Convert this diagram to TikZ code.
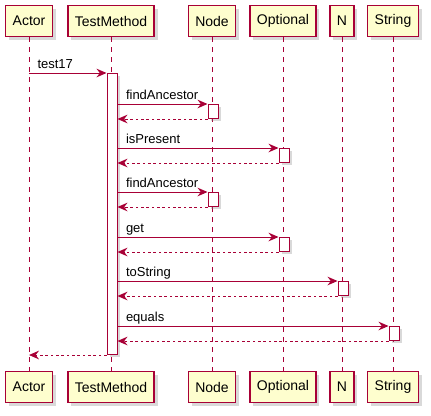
\documentclass[tikz,border=0pt]{standalone}
\usepackage{fontspec}
\setmainfont{Liberation Sans}
\usetikzlibrary{arrows.meta,shadows}

\definecolor{umlred}{HTML}{A80036}
\definecolor{umlfill}{HTML}{FEFECE}

\begin{document}
\begin{tikzpicture}[x=0.75pt, y=-0.75pt,
    part/.style={draw=umlred, fill=umlfill, line width=1.1pt, minimum height=23.25pt, inner xsep=5.25pt,
                 font=\fontsize{10.5}{12}\selectfont,
                 drop shadow={shadow xshift=2.5pt, shadow yshift=-2.5pt, opacity=0.3}},
    act/.style={draw=umlred, fill=white, line width=0.75pt, minimum width=7.5pt, minimum height=10.5pt, inner sep=0pt, anchor=north,
                drop shadow={shadow xshift=2pt, shadow yshift=-2pt, opacity=0.3}},
    lifeline/.style={draw=umlred, line width=0.75pt, dash pattern=on 3.75pt off 3.75pt},
    call/.style={draw=umlred, line width=0.75pt, -{Stealth[length=7.5pt, width=6.5pt, inset=2.5pt]}},
    reply/.style={call, dash pattern=on 2pt off 2pt},
    msg/.style={pos=0, anchor=base west, inner sep=0pt, xshift=6pt, yshift=3.75pt, font=\fontsize{9.75}{11}\selectfont}]
  \useasboundingbox (0,0) rectangle (431,415);
  % participants, top and bottom
  \node[part] (actT)  at (29,21)  {Actor};
  \node[part] (tmT)   at (111,21) {TestMethod};
  \node[part] (nodeT) at (212,21) {Node};
  \node[part] (optT)  at (283,21) {Optional};
  \node[part] (nT)    at (342,21) {N};
  \node[part] (strT)  at (393,21) {String};
  \node[part] (actB)  at (29,387)  {Actor};
  \node[part] (tmB)   at (111,387) {TestMethod};
  \node[part] (nodeB) at (212,387) {Node};
  \node[part] (optB)  at (283,387) {Optional};
  \node[part] (nB)    at (342,387) {N};
  \node[part] (strB)  at (393,387) {String};
  % lifelines
  \draw[lifeline] (actT) -- (actB);
  \draw[lifeline] (tmT) -- (tmB);
  \draw[lifeline] (nodeT) -- (nodeB);
  \draw[lifeline] (optT) -- (optB);
  \draw[lifeline] (nT) -- (nB);
  \draw[lifeline] (strT) -- (strB);
  % activations
  \node[act, minimum height=210.75pt] (tmAct) at (112,73) {};
  \node[act] (nodeAct1) at (213,104) {};
  \node[act] (optAct1)  at (284,148) {};
  \node[act] (nodeAct2) at (213,192) {};
  \node[act] (optAct2)  at (284,237) {};
  \node[act] (nAct)     at (343,281) {};
  \node[act] (strAct)   at (394,326) {};
  % messages
  \draw[call] (actT |- tmAct.north) -- (tmAct.north west) node[msg] {test17};
  \draw[call] (tmAct.east |- nodeAct1.north) -- (nodeAct1.north west) node[msg] {findAncestor};
  \draw[reply] (nodeAct1.south west) -- (tmAct.east |- nodeAct1.south);
  \draw[call] (tmAct.east |- optAct1.north) -- (optAct1.north west) node[msg] {isPresent};
  \draw[reply] (optAct1.south west) -- (tmAct.east |- optAct1.south);
  \draw[call] (tmAct.east |- nodeAct2.north) -- (nodeAct2.north west) node[msg] {findAncestor};
  \draw[reply] (nodeAct2.south west) -- (tmAct.east |- nodeAct2.south);
  \draw[call] (tmAct.east |- optAct2.north) -- (optAct2.north west) node[msg] {get};
  \draw[reply] (optAct2.south west) -- (tmAct.east |- optAct2.south);
  \draw[call] (tmAct.east |- nAct.north) -- (nAct.north west) node[msg] {toString};
  \draw[reply] (nAct.south west) -- (tmAct.east |- nAct.south);
  \draw[call] (tmAct.east |- strAct.north) -- (strAct.north west) node[msg] {equals};
  \draw[reply] (strAct.south west) -- (tmAct.east |- strAct.south);
  \draw[reply] (tmAct.south west) -- (actT |- tmAct.south);
\end{tikzpicture}
\end{document}
